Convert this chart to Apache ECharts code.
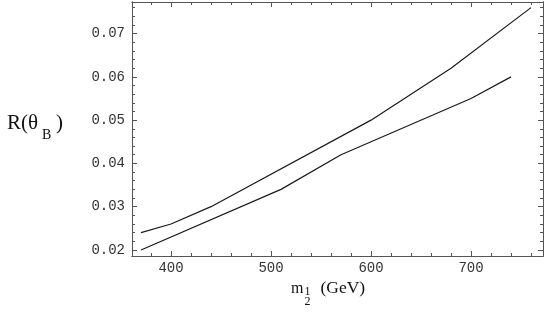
<!DOCTYPE html>
<html>
<head>
<meta charset="utf-8">
<script src="https://cdn.jsdelivr.net/npm/echarts@6/dist/echarts.min.js"></script>
<style>
  html, body { margin: 0; padding: 0; background: #fff; }
  #main { width: 545px; height: 321px; }
</style>
</head>
<body>
<div id="main"></div>
<script>
// upper curve
var upperX = [370, 400, 440, 600, 680, 760];
var upperY = [0.024, 0.026, 0.030, 0.050, 0.062, 0.076];
// lower curve
var lowerX = [370, 510, 570, 700, 740];
var lowerY = [0.020, 0.034, 0.042, 0.055, 0.060];

// ticks
var xMajor = [400, 500, 600, 700];
var xMinor = [380, 420, 440, 460, 480, 520, 540, 560, 580, 620, 640, 660, 680, 720, 740, 760];
var yMajor = [0.02, 0.03, 0.04, 0.05, 0.06, 0.07];
var yMinor = [0.022, 0.024, 0.026, 0.028, 0.032, 0.034, 0.036, 0.038, 0.042, 0.044, 0.046, 0.048,
              0.052, 0.054, 0.056, 0.058, 0.062, 0.064, 0.066, 0.068, 0.072, 0.074, 0.076];

var xMin = 361, xMax = 772;
var yMin = 0.0186, yMax = 0.0773;

function pairs(xs, ys) {
    var out = [];
    for (var i = 0; i < xs.length; i++) out.push([xs[i], ys[i]]);
    return out;
}

// one frame side: axis line + inward ticks, labels only where asked
function side(pos, min, max, ticks, len, labels, fmt) {
    return {
        type: 'value',
        position: pos,
        min: min,
        max: max,
        axisLine: { show: true, onZero: false, lineStyle: { color: '#555', width: 1 } },
        axisTick: { show: true, inside: true, length: len, customValues: ticks,
                    lineStyle: { color: '#555', width: 1 } },
        axisLabel: { show: labels, customValues: ticks, formatter: fmt,
                     fontFamily: 'Liberation Mono', fontSize: 14, color: '#333',
                     margin: pos === 'left' ? 7 : 5 },
        splitLine: { show: false }
    };
}

function txt(s, x, y, size) {
    return { type: 'text', x: x, y: y,
             style: { text: s, font: size + 'px "Liberation Serif"', fill: '#111', verticalAlign: 'middle' } };
}

var chart = echarts.init(document.getElementById('main'));
var option = {
    animation: false,
    backgroundColor: '#fff',
    grid: { left: 132, top: 2, width: 411, height: 254, outerBoundsMode: 'none' },
    xAxis: [
        side('bottom', xMin, xMax, xMajor, 5, true, function (v) { return String(Math.round(v)); }),
        side('bottom', xMin, xMax, xMinor, 3, false),
        side('top', xMin, xMax, xMajor, 5, false),
        side('top', xMin, xMax, xMinor, 3, false)
    ],
    yAxis: [
        side('left', yMin, yMax, yMajor, 5, true, function (v) { return v.toFixed(2); }),
        side('left', yMin, yMax, yMinor, 3, false),
        side('right', yMin, yMax, yMajor, 5, false),
        side('right', yMin, yMax, yMinor, 3, false)
    ],
    series: [
        { type: 'line', data: pairs(upperX, upperY), symbol: 'none',
          lineStyle: { color: '#1a1a1a', width: 1.2 } },
        { type: 'line', data: pairs(lowerX, lowerY), symbol: 'none',
          lineStyle: { color: '#1a1a1a', width: 1.2 } }
    ],
    graphic: [
        // R(θ_B)
        txt('R(θ', 7, 123, 21),
        txt('B', 42, 135, 14),
        txt(')', 56, 123, 21),
        // m_{1/2} (GeV)
        txt('m', 291, 288.5, 16),
        txt('1', 304.5, 292, 12),
        txt('2', 304.5, 302, 12),
        txt('(GeV)', 320.5, 288.5, 17.5)
    ]
};
chart.setOption(option);
</script>
</body>
</html>
